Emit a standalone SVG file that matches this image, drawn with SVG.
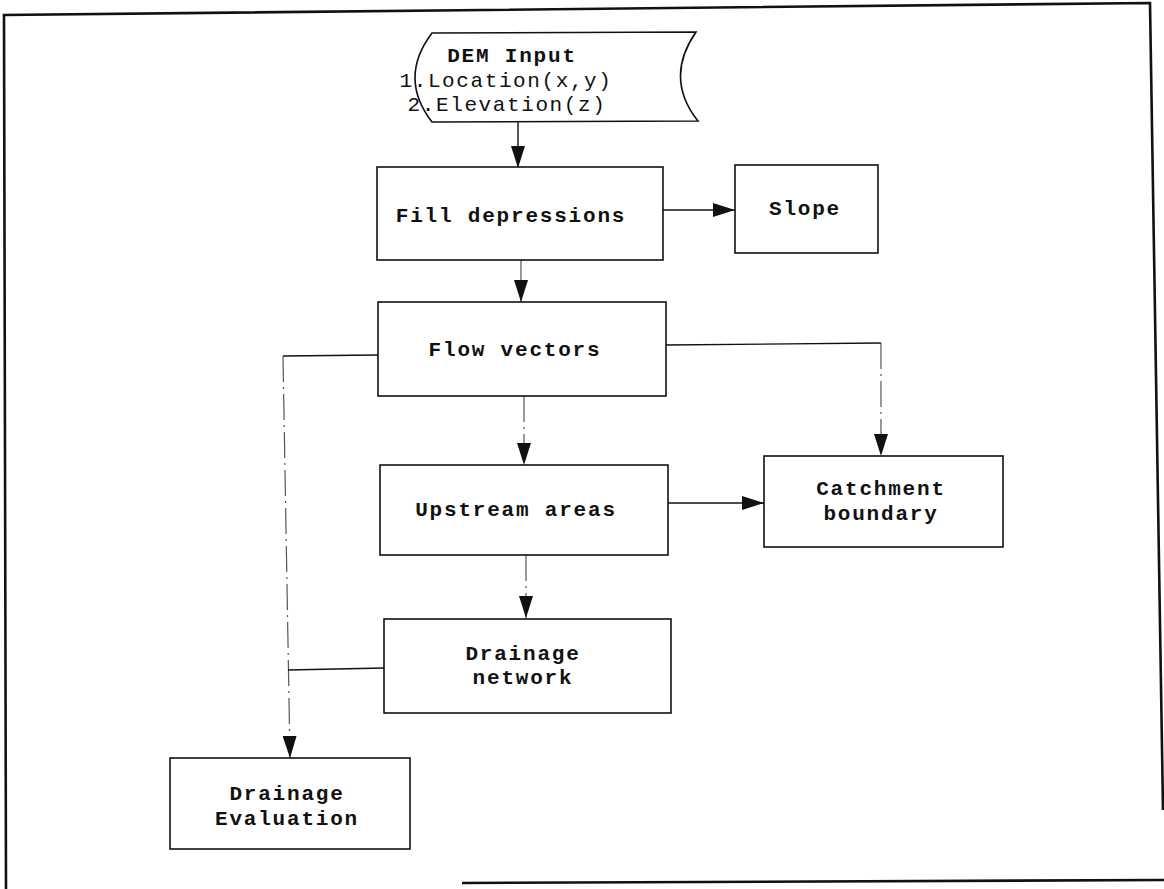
<svg xmlns="http://www.w3.org/2000/svg" width="1164" height="889" viewBox="0 0 1164 889">
<style>
.box{fill:#fff;stroke:#111;stroke-width:1.6}
.frame{fill:none;stroke:#111;stroke-width:2.6}
.lbl{font-family:"Liberation Mono","Courier New",monospace;font-size:21px;letter-spacing:1.8px;font-weight:bold;fill:#111;text-anchor:middle}
.reg{font-family:"Liberation Mono","Courier New",monospace;font-size:21px;letter-spacing:1.6px;fill:#111;text-anchor:middle}
.solid{fill:none;stroke:#111;stroke-width:1.4}
.dash{fill:none;stroke:#555;stroke-width:1.2;stroke-dasharray:26 5 2 5}
</style>
<defs>
<marker id="ah" markerWidth="22" markerHeight="14" refX="22" refY="7" orient="auto" markerUnits="userSpaceOnUse">
<path d="M0,0 L22,7 L0,14 Z" fill="#111"/>
</marker>
</defs>
<g id="frame">
<path class="frame" d="M6,889 L4,15 L1150,3 L1163,810"/>
<path class="frame" d="M462,883 L1164,880"/>
</g>
<g id="connectors">
<path class="solid" d="M518,122 L518,168" marker-end="url(#ah)"/>
<path class="solid" d="M663,210 L735,210" marker-end="url(#ah)"/>
<path class="dash" d="M521,260 L521,302" marker-end="url(#ah)"/>
<path class="dash" d="M524,396 L524,465" marker-end="url(#ah)"/>
<path class="solid" d="M666,503 L764,503" marker-end="url(#ah)"/>
<path class="solid" d="M666,345 L881,343"/>
<path class="dash" d="M881,343 L881,456" marker-end="url(#ah)"/>
<path class="dash" d="M526,555 L526,618" marker-end="url(#ah)"/>
<path class="solid" d="M378,355 L283,356"/>
<path class="dash" d="M283,356 L290,758" marker-end="url(#ah)"/>
<path class="solid" d="M384,668 L288,670"/>
</g>
<g id="dem">
<path class="box" d="M432,33 L696,32 Q664,78 698,121 L432,122 Q398,78 432,33 Z"/>
<text class="lbl" x="512" y="62">DEM Input</text>
<text class="reg" x="506" y="87">1.Location(x,y)</text>
<text class="reg" x="507" y="111">2.Elevation(z)</text>
</g>
<g id="fill">
<rect class="box" x="377" y="167" width="286" height="93"/>
<text class="lbl" x="511" y="222">Fill depressions</text>
</g>
<g id="slope">
<rect class="box" x="735" y="165" width="143" height="88"/>
<text class="lbl" x="805" y="215">Slope</text>
</g>
<g id="flow">
<rect class="box" x="378" y="302" width="288" height="94"/>
<text class="lbl" x="515" y="356">Flow vectors</text>
</g>
<g id="upstream">
<rect class="box" x="380" y="465" width="288" height="90"/>
<text class="lbl" x="516" y="516">Upstream areas</text>
</g>
<g id="catchment">
<rect class="box" x="764" y="456" width="239" height="91"/>
<text class="lbl" x="881" y="495">Catchment</text>
<text class="lbl" x="881" y="520">boundary</text>
</g>
<g id="network">
<rect class="box" x="384" y="619" width="287" height="94"/>
<text class="lbl" x="523" y="660">Drainage</text>
<text class="lbl" x="523" y="684">network</text>
</g>
<g id="evaluation">
<rect class="box" x="170" y="758" width="240" height="91"/>
<text class="lbl" x="287" y="800">Drainage</text>
<text class="lbl" x="287" y="825">Evaluation</text>
</g>
</svg>
